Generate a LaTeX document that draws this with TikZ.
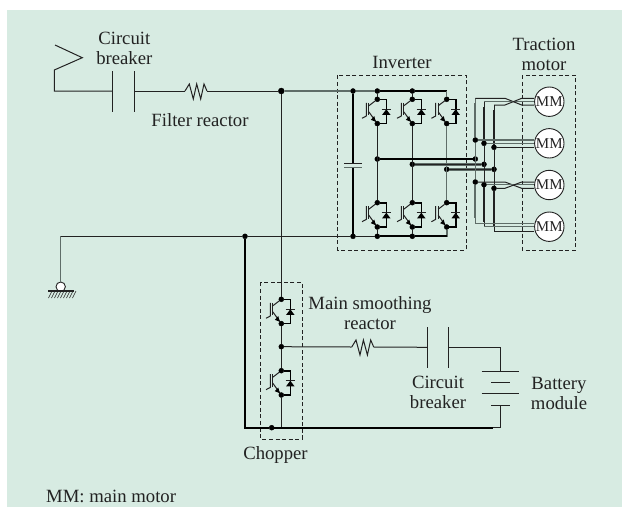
\documentclass[tikz,border=0pt]{standalone}
\usepackage{fontspec}
\setmainfont{Liberation Serif}
\usetikzlibrary{calc}
\definecolor{panel}{HTML}{D7EBE2}
\definecolor{ink}{HTML}{222222}
\definecolor{inkgray}{HTML}{5F6D68}
\tikzset{
  dot/.style={draw=black,shape=circle,fill=black,inner sep=0pt,minimum size=5pt},
  lbl/.style={inner sep=0pt,align=center,text=ink,font=\fontsize{18.7}{20}\selectfont},
  motor/.style={draw=ink,line width=.9pt,shape=circle,fill=white,inner sep=0pt,minimum size=29.4pt,text=ink,font=\fontsize{15}{15}\selectfont},
  wire/.style={draw=ink,line width=1pt},
  gwire/.style={draw=inkgray,line width=1.1pt},
  bus/.style={draw=black,line width=1.9pt},
  gbus/.style={draw=inkgray,line width=2pt},
  dashbox/.style={draw=ink,line width=.8pt,dash pattern=on 4pt off 2.6pt},
  pics/igbt/.style={code={
    \path (0,0) node[dot] (-c) {} (0,24.3) node[dot] (-e) {};
    \draw[draw=black,line width=1.6pt] (-c) -- (9,0) -- (9,24.3) -- (-e);
    \draw[wire] (-8.5,3.5) -- (-8.5,16);
    \draw[wire] (-11,3.5) -- (-11,16.7) -- (-15.3,19);
    \draw[wire] (-c) -- (-8.5,6.5);
    \draw[wire] (-8.5,12.5) -- (-e);
    \fill[black] (-1.5,22.5) -- (-6.5,20.5) -- (-3,16.8) -- cycle;
    \draw[wire] (4.3,10) -- (13.7,10);
    \fill[black] (9,10) -- (4.8,15.6) -- (13.2,15.6) -- cycle;
  }},
  pics/reactor/.style={code={
    \coordinate (-a) at (0,0);
    \coordinate (-b) at (22,0);
    \draw[wire] (-a) -- (4.3,-7) -- (8.3,8) -- (11.7,-7) -- (15.7,8) -- (19,-7) -- (-b);
  }},
  pics/breaker/.style={code={
    \coordinate (-a) at (0,0);
    \coordinate (-b) at (21.8,0);
    \draw[wire] (0,-20) -- (0,20.5);
    \draw[wire] (21.8,-20) -- (21.8,20.5);
  }}
}
\begin{document}
\begin{tikzpicture}[x=1pt,y=-1pt]
  \useasboundingbox (0,0) rectangle (622,507);
  \fill[panel] (7,10) rectangle (622,507);
  % boxes
  \draw[dashbox] (337.7,75.3) rectangle (466,250);
  \draw[dashbox] (522.3,75.3) rectangle (575.7,250);
  \draw[dashbox] (260.7,282.3) rectangle (302.3,439);
  % line side
  \path (55,45) coordinate (pa) (82.3,57.7) coordinate (pb) (54.3,70) coordinate (pc)
  (54.3,91) coordinate (pd) (281.3,91) node[dot,minimum size=6pt] (fork) {} (353,91) node[dot] (captop) {}
  (353,236.3) node[dot] (capbot) {} (245,236.3) node[dot] (gnd) {}
  (60.7,236.3) coordinate (ga) (60.7,286.7) node[draw=ink,line width=.9pt,fill=white,shape=circle,inner sep=0pt,minimum size=9.4pt] (gc) {};
  \pic (cba) at (112.7,91) {breaker};
  \pic (fr) at (185,91) {reactor};
  \draw[wire] (pa) -- (pb) -- (pc) -- (pd) -- (cba-a);
  \draw[wire] (cba-b) -- (fr-a);
  \draw[wire] (fr-b) -- (fork);
  \draw[gwire] (fork) -- (captop);
  \draw[gwire] (ga) -- (gc);
  \draw[wire] (ga) -- (gnd) -- (capbot);
  \draw[draw=ink,line width=1.2pt] (48.3,291) -- (74.3,291);
  \foreach \i in {0,...,8} \draw[draw=ink,line width=.6pt] ({52+3*\i},291) -- ++(-3.5,7);
  % inverter
  \foreach \n/\x in {1/377.3,2/412.3,3/446.7} {
    \pic (up\n) at (\x,99.3) {igbt};
    \pic (lo\n) at (\x,202.7) {igbt};
  }
  \path (377.3,91) node[dot] (top1) {} (412.3,91) node[dot] (top2) {} (446.7,91) coordinate (top3)
  (377.3,236.3) node[dot] (bot1) {} (412.3,236.3) node[dot] (bot2) {} (446.7,236.3) coordinate (bot3)
  (377.3,159) node[dot] (mid1) {} (412.3,164.3) node[dot] (mid2) {} (446.7,169.3) node[dot] (mid3) {}
  (475.3,159) node[dot] (amid) {} (484,164.3) node[dot] (bmid) {} (494,169.3) node[dot] (cmid) {};
  \draw[gwire] (captop) -- (top1);
  \draw[bus] (top1) -- (top2) -- (top3);
  \draw[wire] (capbot) -- (bot1);
  \draw[gbus] (bot1) -- (bot2) -- (bot3) -- (lo3-e);
  \draw[bus] (bot1) -- (bot2) -- (bot3);
  \draw[bus] (captop) -- (353,163.5);
  \draw[bus] (353,167.5) -- (capbot);
  \draw[draw=ink,line width=1.1pt] (344,163.5) -- (362,163.5);
  \draw[draw=inkgray,line width=1.1pt] (344,167.5) -- (362,167.5);
  \foreach \n in {1,2} {
    \draw[wire] (top\n) -- (up\n-c);
    \draw[wire] (up\n-e) -- (lo\n-c);
    \draw[wire] (lo\n-e) -- (bot\n);
  }
  \draw[gwire] (top3) -- (up3-c);
  \draw[gwire] (up3-e) -- (lo3-c);
  \draw[bus,line width=1.5pt] (mid1) -- (amid);
  \draw[gwire,line width=2.4pt] (mid2) -- (bmid);
  \draw[wire] (mid2) -- (bmid);
  \draw[gwire,line width=2.4pt] (mid3) -- (cmid);
  \draw[wire] (mid3) -- (cmid);
  % motors and their three phases
  \foreach \n/\y in {1/101.7,2/143.3,3/185,4/226.7}
    \node[motor] (mm\n) at (549.3,\y) {MM};
  \path (475.3,98.3) coordinate (a1) (484,101.7) coordinate (b1) (494,105) coordinate (c1)
  (475.3,140) node[dot] (a2) {} (484,143.3) node[dot] (b2) {} (494,147.3) node[dot] (c2) {}
  (475.3,182) node[dot] (a3) {} (484,184.7) node[dot] (b3) {} (494,188.3) node[dot] (c3) {}
  (475.3,223.3) coordinate (a4) (484,226.7) coordinate (b4) (494,231) coordinate (c4);
  \foreach \p/\c in {a/inkgray,b/ink,c/ink} {
    \draw[draw=\c,line width=1pt] (\p1) -- (\p2) -- (\p3) -- (\p4);
    \draw[draw=\c,line width=2.1pt] ($(\p1)+(0,5)$) -- (\p2);
    \draw[draw=\c,line width=2.1pt] (\p3) -- ($(\p4)+(0,-5)$);
  }
  \draw[wire] (a1) -- (505,98.3) -- (521.7,105) -- (mm1.west |- c1);
  \draw[gwire] (b1) -- (mm1.west |- b1);
  \draw[wire] (c1) -- (505,105) -- (521.7,98.3) -- (mm1.west |- a1);
  \draw[gwire] (a2) -- (mm2.west |- a2);
  \draw[gwire] (b2) -- (mm2.west |- b2);
  \draw[wire] (c2) -- (mm2.west |- c2);
  \draw[wire] (a3) -- (505,182) -- (521.7,188.3) -- (mm3.west |- c3);
  \draw[gwire] (b3) -- (mm3.west |- b3);
  \draw[wire] (c3) -- (505,188.3) -- (521.7,182) -- (mm3.west |- a3);
  \draw[gwire] (a4) -- (mm4.west |- a4);
  \draw[gwire] (b4) -- (mm4.west |- b4);
  \draw[wire] (c4) -- (mm4.west |- c4);
  % chopper and battery
  \pic (chu) at (281.3,299.3) {igbt};
  \pic (chl) at (281.3,370.7) {igbt};
  \path (281.3,346.7) node[dot] (chm) {} (271.7,427.7) node[dot] (rail) {}
  (281.3,427.7) coordinate (chb) (245,427.7) coordinate (cor) (493.3,427.7) coordinate (raile)
  (500.7,427.7) coordinate (bbot) (500.7,405) coordinate (bminus) (500.7,371) coordinate (bplus)
  (500.7,347.3) coordinate (bcor);
  \pic (smr) at (351.7,347) {reactor};
  \pic (cbb) at (427,347.3) {breaker};
  \draw[wire] (fork) -- (chu-c);
  \draw[wire] (chu-e) -- (chm) -- (chl-c);
  \draw[wire] (chl-e) -- (chb);
  \draw[bus] (gnd) -- (cor) -- (rail) -- (raile);
  \draw[wire] (raile) -- (bbot) -- (bminus);
  \draw[wire] (chm) -- (smr-a);
  \draw[wire] (smr-b) -- (cbb-a);
  \draw[wire] (cbb-b) -- (bcor) -- (bplus);
  \draw[wire] (481.7,371) -- (519.3,371);
  \draw[wire] (491,382.7) -- (510,382.7);
  \draw[wire] (481.7,393) -- (519.3,393);
  \draw[wire] (491,405) -- (510,405);
  % labels
  \node[lbl] (lcb) at (124.3,48) {Circuit\\breaker};
  \node[lbl] (lfr) at (200,120) {Filter reactor};
  \node[lbl] (linv) at (402,62) {Inverter};
  \node[lbl] (ltm) at (544,54) {Traction\\motor};
  \node[lbl] (lsm) at (370,313) {Main smoothing\\reactor};
  \node[lbl] (lcb2) at (438,392) {Circuit\\breaker};
  \node[lbl] (lbat) at (559,393) {Battery\\module};
  \node[lbl] (lch) at (275.5,455) {Chopper};
  \node[lbl,anchor=west] (lmm) at (46,496) {MM: main motor};
\end{tikzpicture}
\end{document}
